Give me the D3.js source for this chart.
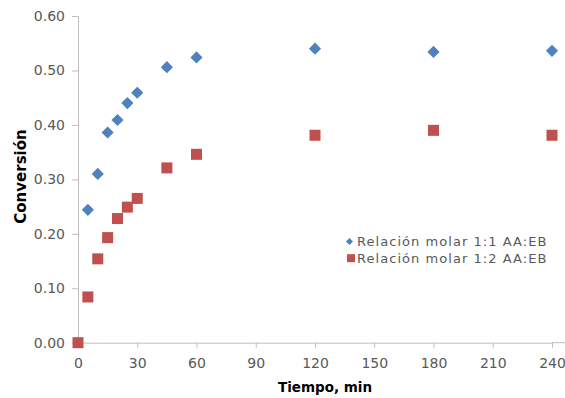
<!DOCTYPE html>
<html>
<head>
<meta charset="utf-8">
<script src="https://cdn.jsdelivr.net/npm/d3@7"></script>
<style>
  body { margin: 0; background: #fff; }
  text { font-family: "DejaVu Sans", sans-serif; }
</style>
</head>
<body>
<script>
// Data
var tiempo1 = [5, 10, 15, 20, 25, 30, 45, 60, 120, 180, 240];
var conv1 = [0.244, 0.310, 0.386, 0.409, 0.440, 0.459, 0.506, 0.524, 0.540, 0.534, 0.536];
var tiempo2 = [0, 5, 10, 15, 20, 25, 30, 45, 60, 120, 180, 240];
var conv2 = [0.000, 0.084, 0.154, 0.193, 0.228, 0.249, 0.265, 0.321, 0.346, 0.381, 0.390, 0.381];
var xTicks = [0, 30, 60, 90, 120, 150, 180, 210, 240];
var yTicks = [0, 0.1, 0.2, 0.3, 0.4, 0.5, 0.6];
var seriesNames = ["Relación molar 1:1 AA:EB", "Relación molar 1:2 AA:EB"];
var colors = ["#4F81BD", "#C0504D"];

var W = 565, H = 398;
var svg = d3.select("body").append("svg")
    .attr("width", W).attr("height", H);

// Scales
var x = d3.scaleLinear().domain([0, 240]).range([78, 552]);
var y = d3.scaleLinear().domain([0, 0.6]).range([342.7, 16]);

var axisColor = "#BFBFBF", labelColor = "#595959";

// Y axis
var yAxis = svg.append("g")
    .attr("transform", "translate(" + x(0) + ",0)")
    .call(d3.axisLeft(y).tickValues(yTicks).tickFormat(d3.format(".2f"))
        .tickSizeInner(6).tickSizeOuter(0).tickPadding(7));
// X axis
var xAxis = svg.append("g")
    .attr("transform", "translate(0," + y(0) + ")")
    .call(d3.axisBottom(x).tickValues(xTicks)
        .tickSizeInner(5).tickSizeOuter(0).tickPadding(10));

[yAxis, xAxis].forEach(function(g){
    g.select(".domain").attr("stroke", axisColor);
    g.selectAll(".tick line").attr("stroke", axisColor);
    g.selectAll(".tick text")
        .attr("fill", labelColor)
        .style("font-size", "14px")
        .style("font-family", "DejaVu Sans");
});
// X axis line runs on to the edge of the picture
svg.append("line")
    .attr("x1", x(240)).attr("x2", W)
    .attr("y1", y(0)).attr("y2", y(0))
    .attr("stroke", axisColor);

// Axis titles
svg.append("text")
    .attr("transform", "translate(26," + 176.5 + ") rotate(-90)")
    .attr("text-anchor", "middle")
    .style("font-size", "15px").style("font-weight", "bold")
    .attr("fill", "#000")
    .text("Conversión");
svg.append("text")
    .attr("x", 325).attr("y", 391.5)
    .attr("text-anchor", "middle")
    .style("font-size", "13.5px").style("font-weight", "bold")
    .attr("fill", "#000")
    .text("Tiempo, min");

// Markers
var diamond = d3.symbol().type(d3.symbolSquare).size(74);
var square = d3.symbol().type(d3.symbolSquare).size(121);

svg.append("g").selectAll("path")
    .data(tiempo2.map(function(t, i){ return [t, conv2[i]]; }))
    .enter().append("path")
    .attr("d", square)
    .attr("transform", function(d){ return "translate(" + x(d[0]) + "," + y(d[1]) + ")"; })
    .attr("fill", colors[1]);

svg.append("g").selectAll("path")
    .data(tiempo1.map(function(t, i){ return [t, conv1[i]]; }))
    .enter().append("path")
    .attr("d", diamond)
    .attr("transform", function(d){ return "translate(" + x(d[0]) + "," + y(d[1]) + ") rotate(45)"; })
    .attr("fill", colors[0]);

// Legend
var legend = svg.append("g");
var legendSymbols = [d3.symbol().type(d3.symbolSquare).size(25), d3.symbol().type(d3.symbolSquare).size(64)];
seriesNames.forEach(function(name, i){
    var cy = 241.5 + i * 16.7;
    legend.append("path")
        .attr("d", legendSymbols[i])
        .attr("transform", "translate(" + (i === 0 ? 349.5 : 351) + "," + cy + ")" + (i === 0 ? " rotate(45)" : ""))
        .attr("fill", colors[i]);
    legend.append("text")
        .attr("x", 357).attr("y", cy + 4.5)
        .style("font-size", "13px")
        .style("letter-spacing", "1.05px")
        .attr("fill", labelColor)
        .text(name);
});
</script>
</body>
</html>
